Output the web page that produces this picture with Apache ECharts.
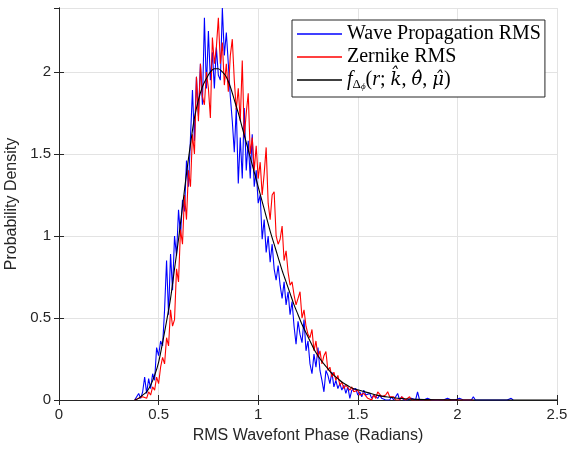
<!DOCTYPE html>
<html>
<head>
<meta charset="utf-8">
<script src="https://cdn.jsdelivr.net/npm/echarts@6/dist/echarts.min.js"></script>
<style>html,body{margin:0;padding:0;background:#fff}#c{width:567px;height:452px}</style>
</head>
<body>
<div id="c"></div>
<script>
// ---- data ----
const binStart = 0.38;   // first bin centre (radians)
const binWidth = 0.01;   // bin width (radians)

const waveRMS = [
  0.00,0.02,0.04,0.01,0.05,0.14,0.04,0.13,0.07,0.16,
  0.12,0.32,0.27,0.36,0.33,0.55,0.85,0.52,0.89,0.67,
  1.00,0.88,1.16,1.00,1.22,1.15,1.46,1.30,1.60,1.89,
  1.58,1.97,1.73,2.05,1.80,2.33,1.90,2.25,1.95,2.12,
  1.90,2.15,1.98,1.95,2.39,2.10,2.24,2.05,1.85,1.70,
  1.51,1.78,1.32,1.60,1.35,1.78,1.40,1.58,1.35,1.62,
  1.30,1.40,1.20,1.25,0.98,1.10,0.90,1.00,0.84,0.95,
  0.80,0.73,0.82,0.70,0.62,0.72,0.58,0.66,0.52,0.60,
  0.45,0.34,0.48,0.40,0.35,0.49,0.30,0.36,0.22,0.16,
  0.28,0.20,0.32,0.18,0.12,0.05,0.18,0.15,0.10,0.17,
  0.08,0.12,0.07,0.10,0.06,0.09,0.04,0.08,0.01,0.06,
  0.05,0.07,0.03,0.05,0.02,0.06,0.03,0.02,0.04,0.01,
  0.03,0.02,0.01,0.03,0.01,0.02,0.00,0.01,0.00,0.02,
  0.00,0.01,0.04,0.00,0.02,0.00,0.01,0.00,0.00,0.01,
  0.02,0.00,0.05,0.00,0.01,0.00,0.00,0.01,0.00,0.00,
  0.00,0.00,0.01,0.00,0.00,0.00,0.00,0.01,0.02,0.00,
  0.00,0.00,0.00,0.01,0.00,0.00,0.00,0.00,0.00,0.00,
  0.02,0.00,0.00,0.00,0.00,0.00,0.00,0.00,0.00,0.00,
  0.00,0.00,0.00,0.00,0.01,0.00,0.00,0.00,0.00,0.01,
  0.00
];

const zernikeRMS = [
  0.00,0.00,0.01,0.00,0.02,0.03,0.01,0.05,0.03,0.08,
  0.06,0.14,0.10,0.20,0.26,0.22,0.38,0.33,0.55,0.45,
  0.49,0.80,0.72,1.04,0.95,1.25,1.10,1.40,1.30,1.62,
  1.50,1.97,1.70,2.05,1.85,1.80,2.00,1.90,1.72,2.21,
  2.05,2.15,2.33,2.05,2.18,1.92,2.05,1.88,2.10,2.20,
  1.95,1.77,1.90,1.70,2.07,1.60,1.75,1.87,1.50,1.60,
  1.40,1.55,1.35,1.45,1.25,1.38,1.54,1.20,1.10,1.25,
  1.27,1.00,0.95,0.98,1.06,0.85,0.91,0.78,0.70,0.72,
  0.64,0.58,0.62,0.66,0.50,0.55,0.45,0.40,0.38,0.43,
  0.30,0.36,0.26,0.30,0.22,0.27,0.295,0.18,0.20,0.14,
  0.17,0.12,0.15,0.09,0.11,0.07,0.09,0.10,0.06,0.08,
  0.05,0.04,0.06,0.03,0.02,0.04,0.03,0.01,0.02,0.00,
  0.03,0.01,0.05,0.04,0.02,0.01,0.03,0.05,0.02,0.01,
  0.02,0.00,0.01,0.00,0.02,0.01,0.00,0.01,0.02,0.00,
  0.01,0.00,0.01,0.00,0.00,0.00,0.00,0.00,0.00,0.00,
  0.01,0.00,0.00,0.00,0.00,0.00,0.00,0.00,0.00,0.00,
  0.00,0.00,0.00,0.00,0.00,0.00,0.00,0.00,0.00,0.00,
  0.00
];

const fitX = [0.38,0.40,0.42,0.44,0.46,0.48,0.50,0.52,0.54,0.56,0.58,0.60,0.62,0.64,0.66,0.68,0.70,0.72,0.74,0.76,0.78,0.80,0.82,0.84,0.86,0.88,0.90,0.92,0.94,0.96,0.98,1.00,1.02,1.04,1.06,1.08,1.10,1.12,1.14,1.16,1.18,1.20,1.22,1.24,1.26,1.28,1.30,1.32,1.34,1.36,1.38,1.40,1.42,1.44,1.46,1.48,1.50,1.55,1.60,1.65,1.70,1.80,1.90,2.00,2.50];
const fitY = [0.00,0.01,0.03,0.05,0.09,0.15,0.23,0.35,0.48,0.62,0.80,0.98,1.18,1.38,1.56,1.72,1.83,1.91,1.96,2.00,2.02,2.02,2.00,1.97,1.91,1.83,1.75,1.66,1.57,1.48,1.39,1.30,1.21,1.12,1.03,0.95,0.87,0.79,0.72,0.65,0.58,0.52,0.46,0.41,0.36,0.31,0.27,0.235,0.205,0.175,0.15,0.13,0.11,0.095,0.08,0.068,0.062,0.045,0.028,0.018,0.011,0.004,0.0015,0.0005,0.0];

const xTicks = [0, 0.5, 1, 1.5, 2, 2.5];
const yTicks = [0, 0.5, 1, 1.5, 2];

const names = ['Wave Propagation RMS', 'Zernike RMS', 'fit'];

// ---- build ----
const binned = arr => arr.map((v, i) => [+(binStart + i * binWidth).toFixed(4), v]);
const fitData = fitX.map((x, i) => [x, fitY[i]]);

const axisColor = '#262626';
const sans = 'Liberation Sans, Arial, sans-serif';
const serif = 'Liberation Serif, Times New Roman, serif';
const serifHat = 'DejaVu Serif, serif';

const chart = echarts.init(document.getElementById('c'), null, {renderer: 'canvas'});
const common = {
  min: 0, axisLine: {show: true, lineStyle: {color: axisColor, width: 1}},
  axisTick: {show: true, inside: true, length: 5, lineStyle: {color: axisColor}},
  splitLine: {show: false}
};
chart.setOption({
  animation: false,
  backgroundColor: '#fff',
  grid: {left: 59, right: 10, top: 8, bottom: 52, containLabel: false, outerBoundsMode: 'none'},
  xAxis: [
    Object.assign({}, common, {
      type: 'value', max: 2.5, interval: 0.5, position: 'bottom',
      axisLabel: {color: axisColor, fontSize: 15, fontFamily: sans, margin: 7,
        formatter: v => xTicks.includes(v) ? String(v) : ''},
      splitLine: {show: true, lineStyle: {color: '#e3e3e3', width: 1}},
      name: 'RMS Wavefont Phase (Radians)', nameLocation: 'middle', nameGap: 28,
      nameTextStyle: {color: axisColor, fontSize: 16, fontFamily: sans}
    }),
    Object.assign({}, common, {
      type: 'value', max: 2.5, interval: 0.5, position: 'top', axisLabel: {show: false}
    })
  ],
  yAxis: [
    Object.assign({}, common, {
      type: 'value', max: 2.39, interval: 0.5, position: 'left',
      axisLabel: {color: axisColor, fontSize: 15, fontFamily: sans, margin: 8, showMaxLabel: false,
        formatter: v => yTicks.includes(v) ? String(v) : ''},
      splitLine: {show: true, lineStyle: {color: '#e3e3e3', width: 1}},
      name: 'Probability Density', nameLocation: 'middle', nameGap: 31,
      nameTextStyle: {color: axisColor, fontSize: 16, fontFamily: sans}
    }),
    Object.assign({}, common, {
      type: 'value', max: 2.39, interval: 0.5, position: 'right', axisLabel: {show: false}
    })
  ],
  legend: {
    orient: 'vertical', left: 292, top: 20,
    data: names,
    icon: 'rect', itemWidth: 45, itemHeight: 1.5, itemGap: 1,
    backgroundColor: '#fff', borderColor: '#262626', borderWidth: 1,
    padding: [3, 4, 6, 5],
    textStyle: {
      color: '#000', fontSize: 20, fontFamily: serif, lineHeight: 22,
      rich: {
        it: {fontStyle: 'italic', fontSize: 20, fontFamily: serif, color: '#000', lineHeight: 22},
        hat: {fontStyle: 'italic', fontSize: 18, fontFamily: serifHat, color: '#000', lineHeight: 22},
        rm: {fontSize: 20, fontFamily: serif, color: '#000', lineHeight: 22},
        sub: {fontSize: 13, fontFamily: serif, color: '#000', lineHeight: 22, verticalAlign: 'bottom'},
        subsub: {fontSize: 9, fontFamily: serif, fontStyle: 'italic', color: '#000', lineHeight: 20, verticalAlign: 'bottom'}
      }
    },
    formatter: n => n === 'fit'
      ? '{it|f}{sub|Δ}{subsub|ϕ}{rm|(}{it|r}{rm|; }{hat|k\u0302}{rm|, }{hat|θ\u0302}{rm|, }{hat|μ\u0302}{rm|)}'
      : n
  },
  series: [
    {name: names[0], type: 'line', data: binned(waveRMS), showSymbol: false, symbol: 'none',
      lineStyle: {color: '#0000ff', width: 1.1}, itemStyle: {color: '#0000ff'}, z: 2},
    {name: names[1], type: 'line', data: binned(zernikeRMS), showSymbol: false, symbol: 'none',
      lineStyle: {color: '#ff0000', width: 1.1}, itemStyle: {color: '#ff0000'}, z: 3},
    {name: names[2], type: 'line', data: fitData, showSymbol: false, symbol: 'none', smooth: 0.3,
      lineStyle: {color: '#000000', width: 1.1}, itemStyle: {color: '#000000'}, z: 4}
  ]
});
</script>
</body>
</html>
